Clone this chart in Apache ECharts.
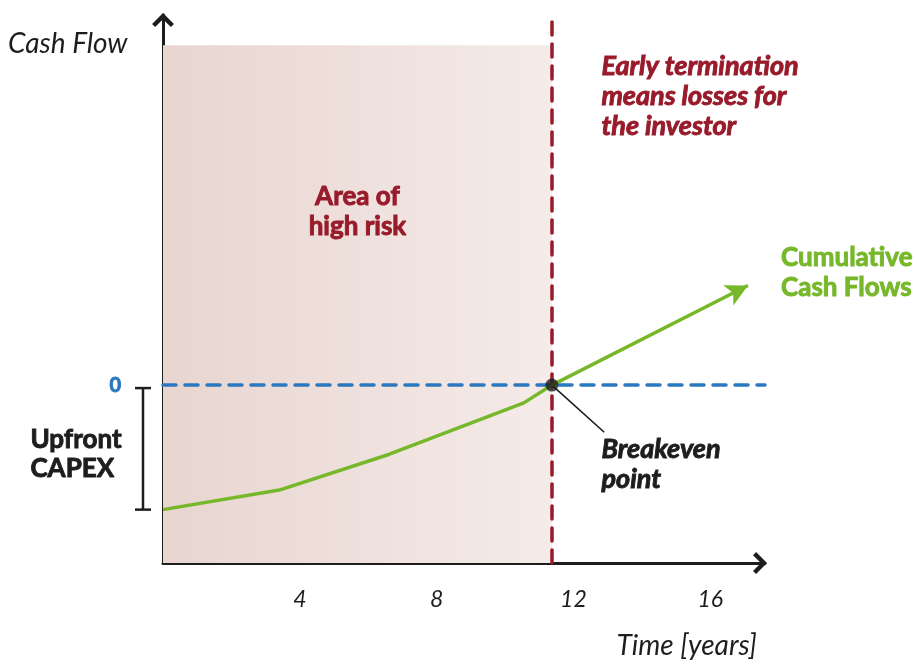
<!DOCTYPE html>
<html>
<head>
<meta charset="utf-8">
<script src="https://cdn.jsdelivr.net/npm/echarts@6/dist/echarts.min.js"></script>
<style>
  html, body { margin: 0; padding: 0; background: #ffffff; }
  #chart { width: 917px; height: 664px; }
</style>
</head>
<body>
<div id="chart"></div>
<script>
// Cumulative cash flow of a project: upfront CAPEX, then payback over time
const years = [0, 3.4, 6.6, 10.55, 11.37, 17.1];
const cumulativeCashFlow = [-70, -59, -39, -10, 0, 56];
const xTicks = [4, 8, 12, 16];
const breakevenYear = 11.37;
const upfrontCapex = -70;
const riskAreaTop = 191;
const leaderEnd = [12.9, -26.5];

const INK = '#1d1d1b';
const RED = '#981b2b';
const GREEN = '#76b82a';
const BLUE = '#2a78c0';
const FONT = 'Lato';

// open chevron used as the axis arrow heads (points up before rotation)
const chevron = 'path://M10 0 L20 10 L17.2 12.8 L10 5.6 L2.8 12.8 L0 10 Z';

// heavy caption text: bold face plus a thin outline in the same colour
function heavyText(text, font, fill, extra) {
  return Object.assign({ text: text, font: font, fill: fill, stroke: fill, lineWidth: 0.9 }, extra || {});
}

const chart = echarts.init(document.getElementById('chart'), null, { renderer: 'canvas' });

const lineData = years.map((x, i) => {
  const item = { value: [x, cumulativeCashFlow[i]] };
  if (i === years.length - 1) {
    item.symbol = 'arrow';
    item.symbolSize = [17, 22];
    item.symbolRotate = -63;
    item.itemStyle = { color: GREEN };
  }
  return item;
});

const option = {
  animation: false,
  backgroundColor: '#ffffff',
  grid: { left: 163, right: 152, top: 15, bottom: 101, containLabel: false, outerBoundsMode: 'none' },
  xAxis: {
    type: 'value',
    min: 0,
    max: 17.6,
    interval: 4,
    axisLine: {
      show: true,
      onZero: false,
      symbol: ['none', chevron],
      symbolSize: [22, 14],
      symbolOffset: [0, -5],
      lineStyle: { color: INK, width: 3 }
    },
    axisTick: { show: false },
    splitLine: { show: false },
    axisLabel: {
      margin: 25,
      showMinLabel: false,
      showMaxLabel: false,
      fontFamily: FONT,
      fontStyle: 'italic',
      fontSize: 23,
      color: INK,
      formatter: v => (xTicks.indexOf(v) >= 0 ? String(v) : '')
    }
  },
  yAxis: {
    type: 'value',
    min: -100,
    max: 208,
    interval: 100,
    axisLine: {
      show: true,
      onZero: false,
      symbol: ['none', chevron],
      symbolSize: [22, 14],
      symbolOffset: [0, -5],
      lineStyle: { color: INK, width: 3 }
    },
    axisTick: { show: false },
    splitLine: { show: false },
    axisLabel: {
      margin: 42,
      showMaxLabel: false,
      fontFamily: FONT,
      fontWeight: 'bold',
      fontSize: 20,
      color: BLUE,
      textBorderColor: BLUE,
      textBorderWidth: 0.8,
      formatter: v => (v === 0 ? '0' : '')
    }
  },
  series: [
    {
      name: 'Cumulative Cash Flows',
      type: 'line',
      data: lineData,
      showSymbol: true,
      symbol: 'none',
      lineStyle: { color: GREEN, width: 3.5 },
      itemStyle: { color: GREEN },
      z: 5,
      markArea: {
        silent: true,
        itemStyle: {
          color: {
            type: 'linear', x: 0, y: 0, x2: 1, y2: 0,
            colorStops: [
              { offset: 0, color: '#e8d5d0' },
              { offset: 1, color: '#f5ebe9' }
            ]
          }
        },
        label: {
          show: true,
          position: 'insideTop',
          distance: 136,
          formatter: 'Area of\nhigh risk',
          fontFamily: FONT,
          fontWeight: 'bold',
          fontSize: 26,
          lineHeight: 30,
          color: RED,
          textBorderColor: RED,
          textBorderWidth: 0.9,
          align: 'center'
        },
        data: [[{ coord: [0, -100] }, { coord: [breakevenYear, riskAreaTop] }]]
      },
      markLine: {
        silent: true,
        symbol: ['none', 'none'],
        label: { show: false },
        data: [
          { yAxis: 0, lineStyle: { color: BLUE, width: 3.5, type: [13, 9], cap: 'round' } },
          { xAxis: breakevenYear, lineStyle: { color: RED, width: 3.5, type: [13, 9], cap: 'round' } }
        ]
      }
    },
    {
      name: 'Breakeven point',
      type: 'scatter',
      data: [[breakevenYear, 0]],
      symbolSize: 13,
      itemStyle: { color: INK },
      z: 10,
      markLine: {
        silent: true,
        symbol: ['none', 'none'],
        label: { show: false },
        lineStyle: { color: INK, width: 1.6, type: 'solid' },
        data: [[{ coord: [breakevenYear, 0] }, { coord: leaderEnd }]]
      }
    }
  ],
  graphic: [
    { type: 'text', left: 8, top: 30, style: { text: 'Cash Flow', font: 'italic 28px ' + FONT, fill: INK } },
    { type: 'text', right: 160, top: 632, style: { text: 'Time [years]', font: 'italic 28px ' + FONT, fill: INK } },
    {
      type: 'text', left: 601, top: 51,
      style: heavyText('Early termination\nmeans losses for\nthe investor', 'italic bold 27px ' + FONT, RED, { lineHeight: 30 })
    },
    {
      type: 'text', right: 4, top: 243,
      style: heavyText('Cumulative\nCash Flows', 'bold 26px ' + FONT, GREEN, { lineHeight: 30, align: 'right' })
    },
    {
      type: 'text', left: 601, top: 434,
      style: heavyText('Breakeven\npoint', 'italic bold 27px ' + FONT, INK, { lineHeight: 30 })
    },
    {
      type: 'text', right: 795, top: 425,
      style: heavyText('Upfront\nCAPEX', 'bold 26px ' + FONT, INK, { lineHeight: 29, align: 'right' })
    }
  ]
};

chart.setOption(option);

// bracket spanning the upfront CAPEX, placed from the y-axis scale
const yZero = chart.convertToPixel({ yAxisIndex: 0 }, 0);
const yCapex = chart.convertToPixel({ yAxisIndex: 0 }, upfrontCapex);
const bx = 143;
chart.setOption({
  graphic: option.graphic.concat([
    {
      type: 'group',
      children: [
        { type: 'line', shape: { x1: bx, y1: yZero + 3, x2: bx, y2: yCapex }, style: { stroke: INK, lineWidth: 2.5 } },
        { type: 'line', shape: { x1: bx - 8, y1: yZero + 3, x2: bx + 8, y2: yZero + 3 }, style: { stroke: INK, lineWidth: 2.5 } },
        { type: 'line', shape: { x1: bx - 8, y1: yCapex, x2: bx + 8, y2: yCapex }, style: { stroke: INK, lineWidth: 2.5 } }
      ]
    }
  ])
}, { replaceMerge: ['graphic'] });
</script>
</body>
</html>
